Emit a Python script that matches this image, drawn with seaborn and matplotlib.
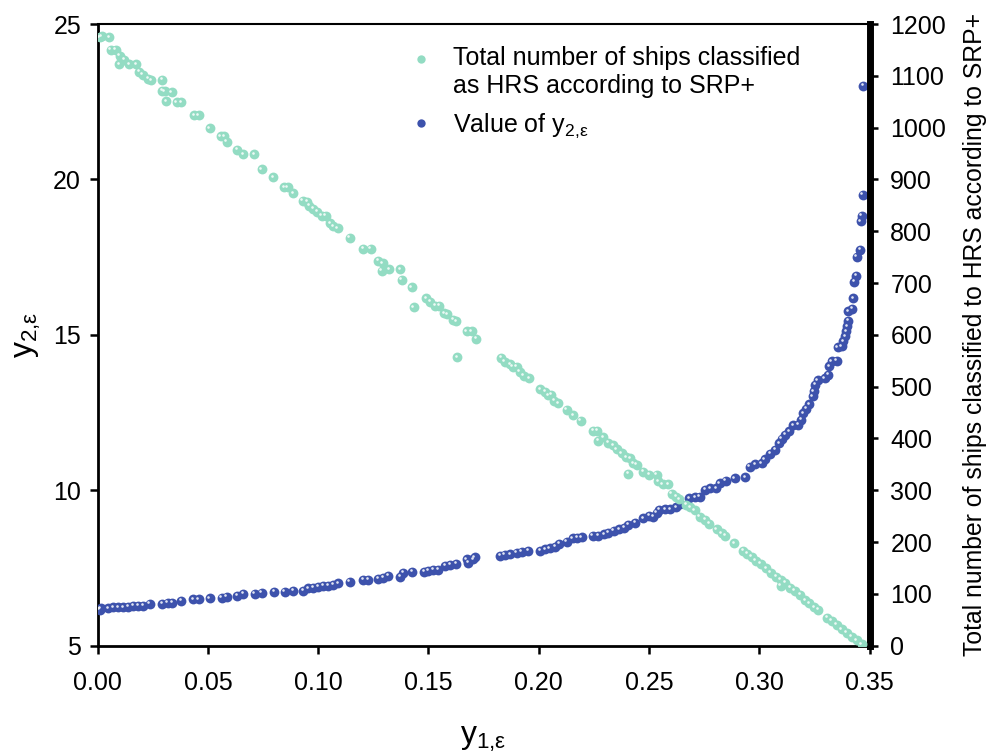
import numpy as np
import pandas as pd
import matplotlib
matplotlib.use("Agg")
import matplotlib.pyplot as plt
import matplotlib.transforms as mtransforms
from matplotlib.lines import Line2D
from matplotlib.legend_handler import HandlerLine2D
import seaborn as sns

# Number of ships classified as HRS (SRP+) versus y1,eps  -> right axis
hrs_y1 = [0.0010, 0.0018, 0.0053, 0.0060, 0.0082, 0.0101, 0.0098, 0.0121, 0.0143, 0.0174,
          0.0189, 0.0204, 0.0229, 0.0242, 0.0293, 0.0293, 0.0305, 0.0336, 0.0310, 0.0358,
          0.0378, 0.0438, 0.0459, 0.0509, 0.0558, 0.0574, 0.0585, 0.0633, 0.0660, 0.0710,
          0.0745, 0.0796, 0.0846, 0.0862, 0.0887, 0.0930, 0.0951, 0.0960, 0.0978, 0.0996,
          0.1016, 0.1034, 0.1054, 0.1068, 0.1088, 0.1144, 0.1205, 0.1238, 0.1273, 0.1293,
          0.1288, 0.1322, 0.1371, 0.1379, 0.1424, 0.1434, 0.1489, 0.1507, 0.1530, 0.1549,
          0.1572, 0.1585, 0.1613, 0.1625, 0.1631, 0.1673, 0.1696, 0.1716, 0.1829, 0.1847,
          0.1870, 0.1882, 0.1900, 0.1915, 0.1933, 0.1957, 0.2006, 0.2029, 0.2044, 0.2056,
          0.2070, 0.2089, 0.2127, 0.2157, 0.2190, 0.2248, 0.2266, 0.2270, 0.2293, 0.2316,
          0.2338, 0.2354, 0.2376, 0.2396, 0.2414, 0.2429, 0.2444, 0.2406, 0.2474, 0.2502,
          0.2535, 0.2542, 0.2562, 0.2588, 0.2603, 0.2623, 0.2638, 0.2668, 0.2686, 0.2708,
          0.2731, 0.2754, 0.2774, 0.2807, 0.2830, 0.2845, 0.2887, 0.2928, 0.2946, 0.2966,
          0.2985, 0.3007, 0.3031, 0.3052, 0.3076, 0.3097, 0.3097, 0.3117, 0.3140, 0.3162,
          0.3185, 0.3208, 0.3227, 0.3249, 0.3268, 0.3309, 0.3329, 0.3351, 0.3374, 0.3397,
          0.3419, 0.3442, 0.3465]
hrs_count = [1174, 1176, 1174, 1150, 1150, 1139, 1122, 1131, 1122, 1122,
             1108, 1102, 1094, 1091, 1092, 1071, 1070, 1068, 1051, 1049,
             1049, 1024, 1024, 999, 983, 983, 973, 957, 949, 949,
             920, 904, 885, 885, 873, 859, 857, 849, 843, 838,
             830, 830, 815, 810, 806, 787, 766, 766, 743, 738,
             724, 727, 727, 706, 692, 653, 671, 664, 656, 656,
             642, 640, 629, 626, 557, 607, 607, 592, 556, 548,
             543, 538, 538, 529, 521, 516, 495, 490, 483, 484,
             473, 468, 455, 445, 434, 415, 415, 396, 402, 392,
             387, 379, 371, 364, 362, 352, 349, 332, 336, 330,
             330, 317, 312, 312, 293, 287, 283, 272, 267, 261,
             249, 243, 235, 225, 217, 212, 198, 183, 177, 172,
             164, 158, 149, 141, 133, 127, 116, 121, 112, 106,
             98, 88, 82, 74, 69, 54, 48, 40, 32, 25,
             17, 10, 3]

# y2,eps versus y1,eps -> left axis
y2_y1 = [0.0010, 0.0015, 0.0048, 0.0071, 0.0093, 0.0116, 0.0139, 0.0161, 0.0184, 0.0207,
         0.0237, 0.0293, 0.0317, 0.0338, 0.0378, 0.0434, 0.0459, 0.0509, 0.0562, 0.0585,
         0.0633, 0.0660, 0.0713, 0.0744, 0.0800, 0.0849, 0.0887, 0.0932, 0.0955, 0.0978,
         0.1000, 0.1023, 0.1046, 0.1068, 0.1091, 0.1144, 0.1205, 0.1227, 0.1273, 0.1295,
         0.1318, 0.1371, 0.1386, 0.1427, 0.1481, 0.1499, 0.1522, 0.1545, 0.1575, 0.1598,
         0.1625, 0.1673, 0.1681, 0.1703, 0.1711, 0.1825, 0.1847, 0.1870, 0.1900, 0.1923,
         0.1953, 0.2006, 0.2029, 0.2051, 0.2074, 0.2093, 0.2127, 0.2154, 0.2175, 0.2195,
         0.2245, 0.2270, 0.2296, 0.2316, 0.2341, 0.2366, 0.2387, 0.2406, 0.2437, 0.2474,
         0.2502, 0.2520, 0.2535, 0.2547, 0.2573, 0.2596, 0.2623, 0.2641, 0.2683, 0.2709,
         0.2731, 0.2754, 0.2777, 0.2804, 0.2822, 0.2848, 0.2890, 0.2936, 0.2958, 0.2981,
         0.3011, 0.3026, 0.3049, 0.3072, 0.3091, 0.3102, 0.3117, 0.3137, 0.3155, 0.3177,
         0.3190, 0.3200, 0.3212, 0.3227, 0.3243, 0.3248, 0.3253, 0.3265, 0.3298, 0.3313,
         0.3318, 0.3329, 0.3351, 0.3356, 0.3374, 0.3381, 0.3389, 0.3394, 0.3400, 0.3404,
         0.3404, 0.3422, 0.3427, 0.3431, 0.3439, 0.3442, 0.3457, 0.3460, 0.3465, 0.3469,
         0.3472]
y2_value = [6.150, 6.206, 6.206, 6.238, 6.238, 6.238, 6.258, 6.280, 6.280, 6.280,
            6.344, 6.344, 6.386, 6.386, 6.450, 6.495, 6.495, 6.528, 6.547, 6.580,
            6.602, 6.666, 6.666, 6.708, 6.740, 6.740, 6.772, 6.772, 6.849, 6.869,
            6.901, 6.933, 6.933, 6.955, 7.010, 7.062, 7.116, 7.116, 7.148, 7.190,
            7.245, 7.222, 7.351, 7.383, 7.383, 7.415, 7.438, 7.438, 7.567, 7.599,
            7.631, 7.782, 7.673, 7.782, 7.846, 7.888, 7.920, 7.943, 7.994, 8.026,
            8.058, 8.058, 8.103, 8.136, 8.187, 8.274, 8.348, 8.457, 8.477, 8.490,
            8.541, 8.541, 8.586, 8.638, 8.693, 8.747, 8.799, 8.886, 8.960, 9.101,
            9.175, 9.153, 9.281, 9.368, 9.391, 9.391, 9.455, 9.561, 9.745, 9.777,
            9.796, 10.011, 10.066, 10.066, 10.227, 10.310, 10.388, 10.420, 10.761, 10.838,
            10.870, 10.999, 11.169, 11.298, 11.513, 11.653, 11.781, 11.891, 12.084, 12.103,
            12.264, 12.480, 12.618, 12.769, 13.017, 13.178, 13.390, 13.532, 13.606, 13.712,
            13.982, 14.143, 14.162, 14.593, 14.626, 14.786, 14.947, 15.108, 15.269, 15.449,
            15.752, 15.835, 16.179, 16.716, 16.909, 17.520, 17.736, 18.649, 18.830, 19.500,
            23.006]

x_ticks = [0.00, 0.05, 0.10, 0.15, 0.20, 0.25, 0.30, 0.35]
left_ticks = [5, 10, 15, 20, 25]
right_ticks = [0, 100, 200, 300, 400, 500, 600, 700, 800, 900, 1000, 1100, 1200]

label_hrs = "Total number of ships classified\nas HRS according to SRP+"
label_y2 = "Value of y$_{\\mathregular{2{,}ε}}$"
label_x = "y$_{\\mathregular{1{,}ε}}$"
label_left = "y$_{\\mathregular{2{,}ε}}$"
label_right = "Total number of ships classified to HRS according to SRP+"

GREEN = "#93dcc3"
BLUE = "#3d52ac"

sns.set_style("ticks")
plt.rcParams["font.family"] = ["Liberation Sans", "DejaVu Sans"]
plt.rcParams["mathtext.fontset"] = "custom"
plt.rcParams["mathtext.rm"] = "Liberation Sans"
plt.rcParams["mathtext.it"] = "Liberation Sans"
plt.rcParams["text.color"] = "black"
plt.rcParams["axes.labelcolor"] = "black"
plt.rcParams["xtick.color"] = "black"
plt.rcParams["ytick.color"] = "black"


class RaisedMarkerHandler(HandlerLine2D):
    """Legend marker lifted to sit beside the first line of a two-line label."""

    def __init__(self, lift_pts=0.0, **kw):
        super().__init__(**kw)
        self.lift_pts = lift_pts

    def create_artists(self, legend, orig_handle, xdescent, ydescent,
                       width, height, fontsize, trans):
        shift = mtransforms.ScaledTranslation(0, self.lift_pts / 72.0,
                                              legend.figure.dpi_scale_trans)
        return super().create_artists(legend, orig_handle, xdescent, ydescent,
                                      width, height, fontsize, trans + shift)


df_hrs = pd.DataFrame({"y1": hrs_y1, "count": hrs_count})
df_y2 = pd.DataFrame({"y1": y2_y1, "y2": y2_value})

fig = plt.figure(figsize=(9.88, 7.55), dpi=100)
ax = fig.add_axes([0.0989, 0.1448, 0.7812, 0.8234])
ax2 = ax.twinx()

MS = 50
sns.scatterplot(data=df_y2, x="y1", y="y2", ax=ax, color=BLUE, s=MS,
                linewidth=0, legend=False, zorder=3)
sns.scatterplot(data=df_hrs, x="y1", y="count", ax=ax2, color=GREEN, s=MS,
                linewidth=0, legend=False, zorder=3)

# small specular highlight on each marker
hl_ax = mtransforms.offset_copy(ax.transData, fig=fig, x=-1.1, y=1.1, units="points")
hl_ax2 = mtransforms.offset_copy(ax2.transData, fig=fig, x=-1.1, y=1.1, units="points")
ax.scatter(y2_y1, y2_value, s=3.5, color="white", alpha=0.85, linewidth=0,
           transform=hl_ax, zorder=4)
ax2.scatter(hrs_y1, hrs_count, s=3.5, color="white", alpha=0.85, linewidth=0,
            transform=hl_ax2, zorder=4)

ax.set_xlim(0, 0.35)
ax.set_ylim(5, 25)
ax2.set_ylim(0, 1200)
ax.set_xticks(x_ticks)
ax.set_xticklabels([f"{v:.2f}" for v in x_ticks])
ax.set_yticks(left_ticks)
ax2.set_yticks(right_ticks)

fs_tick = 18
ax.tick_params(axis="both", direction="out", length=6, width=1.8,
               labelsize=fs_tick, color="black", labelcolor="black", pad=6)
ax.tick_params(axis="x", pad=12)
ax2.tick_params(axis="y", direction="out", length=6, width=1.8,
                labelsize=fs_tick, color="black", labelcolor="black", pad=9)

for sp in ["left", "bottom"]:
    ax.spines[sp].set_linewidth(2)
    ax.spines[sp].set_color("black")
ax.spines["top"].set_linewidth(1.5)
ax.spines["top"].set_color("black")
ax.spines["right"].set_visible(False)
for sp in ["left", "bottom", "top"]:
    ax2.spines[sp].set_visible(False)
ax2.spines["right"].set_linewidth(5)
ax2.spines["right"].set_color("black")

ax.set_xlabel(label_x, fontsize=23, labelpad=21)
ax.set_ylabel(label_left, fontsize=23, labelpad=7)
ax2.set_ylabel(label_right, fontsize=17.8, labelpad=12)

h_hrs = Line2D([], [], marker="o", linestyle="none", markersize=6,
               markerfacecolor=GREEN, markeredgewidth=0, label=label_hrs)
h_y2 = Line2D([], [], marker="o", linestyle="none", markersize=6,
              markerfacecolor=BLUE, markeredgewidth=0, label=label_y2)
leg = ax2.legend(handles=[h_hrs, h_y2], loc="upper left",
                 bbox_to_anchor=(0.383, 0.98),
                 frameon=False, fontsize=18, handletextpad=0.6, handlelength=1.4,
                 labelspacing=0.55, borderaxespad=0,
                 handler_map={h_hrs: RaisedMarkerHandler(lift_pts=10.5)})

fig.savefig("out.png", dpi=100)
